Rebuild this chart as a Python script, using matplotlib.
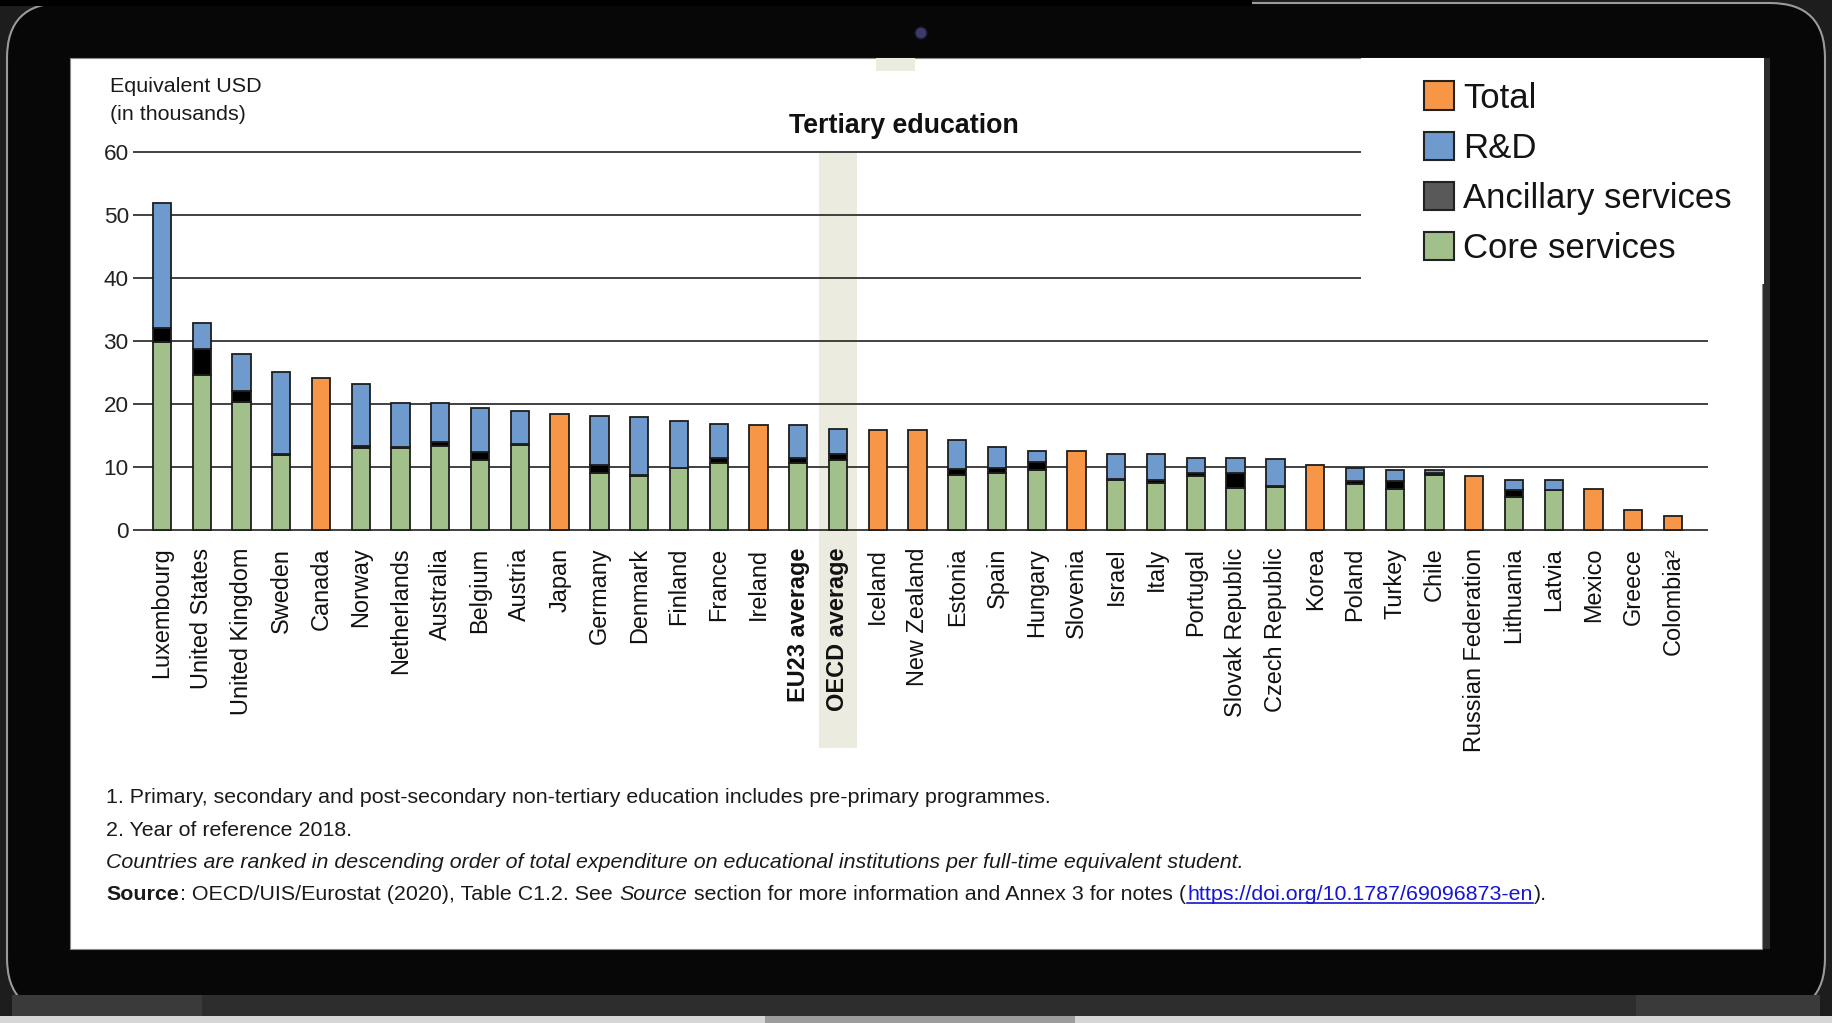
import numpy as np
import matplotlib
matplotlib.use("Agg")
import matplotlib.pyplot as plt
from matplotlib import font_manager
from matplotlib.patches import Rectangle, FancyBboxPatch, Circle, Patch

# Expenditure per tertiary student, equivalent USD (thousands)
countries = ["Luxembourg", "United States", "United Kingdom", "Sweden", "Canada",
             "Norway", "Netherlands", "Australia", "Belgium", "Austria", "Japan",
             "Germany", "Denmark", "Finland", "France", "Ireland", "EU23 average",
             "OECD average", "Iceland", "New Zealand", "Estonia", "Spain", "Hungary",
             "Slovenia", "Israel", "Italy", "Portugal", "Slovak Republic",
             "Czech Republic", "Korea", "Poland", "Turkey", "Chile",
             "Russian Federation", "Lithuania", "Latvia", "Mexico", "Greece",
             "Colombia²"]
core_services = [29.8, 24.6, 20.3, 11.9, None, 13.0, 13.0, 13.4, 11.1, 13.5, None,
                 9.1, 8.5, 9.8, 10.7, None, 10.7, 11.1, None, None, 8.7, 9.1, 9.5,
                 None, 7.9, 7.5, 8.5, 6.6, 6.9, None, 7.3, 6.5, 8.7, None, 5.3, 6.3,
                 None, None, None]
ancillary = [2.3, 4.2, 1.8, 0.1, None, 0.3, 0.1, 0.6, 1.3, 0.1, None,
             1.2, 0.3, 0.1, 0.8, None, 0.8, 0.9, None, None, 1.0, 0.7, 1.3,
             None, 0.2, 0.4, 0.6, 2.5, 0.1, None, 0.4, 1.2, 0.3, None, 1.0, 0.1,
             None, None, None]
r_and_d = [19.8, 4.0, 5.9, 13.1, None, 9.8, 7.1, 6.2, 6.9, 5.3, None,
           7.8, 9.1, 7.4, 5.4, None, 5.1, 4.1, None, None, 4.6, 3.4, 1.8,
           None, 4.0, 4.2, 2.4, 2.4, 4.2, None, 2.1, 1.9, 0.6, None, 1.7, 1.6,
           None, None, None]
total_only = [None, None, None, None, 24.2, None, None, None, None, None, 18.4,
              None, None, None, None, 16.6, None, None, 15.9, 15.9, None, None, None,
              12.5, None, None, None, None, None, 10.3, None, None, None, 8.5, None, None,
              6.5, 3.2, 2.2]
yticks = [0, 10, 20, 30, 40, 50, 60]
highlight = "OECD average"

ORANGE = "#F79646"
BLUE = "#6F9ACD"
BLACK = "#000000"
GREEN = "#A2C08A"
EDGE = "#1e1e1e"
BAND = "#ECEBE0"


def pick_font(names):
    for n in names:
        try:
            font_manager.findfont(n, fallback_to_default=False)
            return n
        except ValueError:
            pass
    return "DejaVu Sans"


NARROW = pick_font(["Liberation Sans Narrow", "Arial Narrow", "Liberation Sans"])
REG = pick_font(["Liberation Sans", "Arial"])

W, H = 1832, 1023
fig = plt.figure(figsize=(W / 100, H / 100), dpi=100)
fig.patch.set_facecolor("#1d1d1d")

# background axes in pixel coordinates (laptop frame, texts)
bg = fig.add_axes([0, 0, 1, 1], zorder=-5)
bg.set_xlim(0, W)
bg.set_ylim(H, 0)
bg.axis("off")

bg.add_patch(FancyBboxPatch((7, 3), 1818, 1010, boxstyle="round,pad=0,rounding_size=55",
                            fc="#070707", ec="#9a9a9a", lw=1.5))
bg.add_patch(Rectangle((0, 0), 1252, 6, fc="#000000", ec="none"))
bg.add_patch(Rectangle((12, 995), 1808, 22, fc="#2d2d2d", ec="none"))
bg.add_patch(Rectangle((12, 995), 190, 22, fc="#3a3a3a", ec="none"))
bg.add_patch(Rectangle((1636, 995), 184, 22, fc="#3a3a3a", ec="none"))
bg.add_patch(Rectangle((0, 1016), W, 8, fc="#d6d6d6", ec="none"))
bg.add_patch(Rectangle((765, 1016), 310, 8, fc="#9c9c9c", ec="none"))
bg.add_patch(Circle((921, 33), 6, fc="#3d3a6a", ec="#15152a", lw=1))
bg.add_patch(Rectangle((1762, 58), 8, 891, fc="#2c2c2c", ec="none"))
bg.add_patch(Rectangle((70, 58), 1692, 891, fc="white", ec="#8a8a8a", lw=0.8))
bg.add_patch(Rectangle((876, 58), 39, 13, fc=BAND, ec="none"))

renderer = fig.canvas.get_renderer()


def size_for(s, target, **kw):
    t = bg.text(0, 0, s, fontsize=20, **kw)
    w = t.get_window_extent(renderer).width
    t.remove()
    return 20 * target / w


# main chart axes, placed by pixel mapping
x0_px, x38_px = 162, 1673
ppx = (x38_px - x0_px) / 38
left_px, right_px = 133, 1708
y0_px, y60_px = 530, 152
ppy = (y0_px - y60_px) / 60
m = 0.1
ax = fig.add_axes([left_px / W, 1 - (y0_px + m * ppy) / H,
                   (right_px - left_px) / W, (y0_px - y60_px + 2 * m * ppy) / H], zorder=1)
ax.set_facecolor("none")
ax.set_xlim(-(x0_px - left_px) / ppx, (right_px - x0_px) / ppx)
ax.set_ylim(-m, 60 + m)

x = np.arange(len(countries))
core = np.array(core_services, dtype=float)
anc = np.array(ancillary, dtype=float)
rnd = np.array(r_and_d, dtype=float)
tot = np.array(total_only, dtype=float)
split = ~np.isnan(core)
bw = 0.46
kw = dict(width=bw, edgecolor=EDGE, linewidth=1.3, zorder=2)
ax.bar(x[split], core[split], color=GREEN, **kw)
ax.bar(x[split], anc[split], bottom=core[split], color=BLACK, **kw)
ax.bar(x[split], rnd[split], bottom=core[split] + anc[split], color=BLUE, **kw)
ax.bar(x[~split], tot[~split], color=ORANGE, **kw)

# shaded OECD average column
hi = countries.index(highlight)
band_bottom = -(748 - y0_px) / ppy
ax.add_patch(Rectangle((hi - 0.47, band_bottom), 0.94, 60 - band_bottom,
                       fc=BAND, ec="none", zorder=0.1, clip_on=False))

ax.grid(axis="y", color="#333333", lw=1.3)
ax.set_axisbelow(True)
for s in ax.spines.values():
    s.set_visible(False)

xfs = size_for("Luxembourg", 130, family=REG)
ax.set_xticks(x)
ax.set_xticklabels(countries, rotation=90, fontsize=xfs, family=REG, va="top",
                   ha="center", color="#111111")
for lbl in ax.get_xticklabels():
    if "average" in lbl.get_text():
        lbl.set_fontweight("bold")
ax.tick_params(axis="x", length=0, pad=17 * 0.72)

yfs = size_for("60", 25, family=NARROW)
ax.set_yticks(yticks)
ax.set_yticklabels([str(v) for v in yticks], fontsize=yfs, family=NARROW, color="#222222")
ax.tick_params(axis="y", length=0, pad=3)

# white box under the legend (hides right end of top gridlines)
ax.add_patch(Rectangle((1361, 58), 1764 - 1361, 284 - 58, transform=bg.transData,
                       fc="white", ec="none", zorder=3, clip_on=False))

# legend
lfs = size_for("Ancillary services", 268, family=NARROW)
fs_px = lfs * 100 / 72
t = bg.text(0, 0, "Ancillary services", fontsize=lfs, family=NARROW)
row_h = max(t.get_window_extent(renderer).height, 30)
t.remove()
handles = [Patch(fc=ORANGE, ec="#222222", lw=1.5, label="Total"),
           Patch(fc=BLUE, ec="#222222", lw=1.5, label="R&D"),
           Patch(fc="#595959", ec="#222222", lw=1.5, label="Ancillary services"),
           Patch(fc=GREEN, ec="#222222", lw=1.5, label="Core services")]
fig.legend(handles=handles, loc="upper left",
           bbox_to_anchor=(1424 / W, 1 - (98 - row_h / 2) / H),
           frameon=False, prop={"family": NARROW, "size": lfs}, labelcolor="#141414",
           handlelength=30 / fs_px, handleheight=30 / fs_px,
           handletextpad=9 / fs_px, labelspacing=(50 - row_h) / fs_px,
           borderpad=0, borderaxespad=0)

# title and axis caption
tfs = size_for("Tertiary education", 230, family=REG, weight="bold")
bg.text(904, 133, "Tertiary education", fontsize=tfs, family=REG, weight="bold",
        ha="center", va="baseline", color="#111111")
cfs = size_for("Equivalent USD", 151, family=NARROW)
bg.text(110, 92, "Equivalent USD", fontsize=cfs, family=NARROW, va="baseline", color="#1a1a1a")
bg.text(110, 120, "(in thousands)", fontsize=cfs, family=NARROW, va="baseline", color="#1a1a1a")

# footnotes
note1 = "1. Primary, secondary and post-secondary non-tertiary education includes pre-primary programmes."
note2 = "2. Year of reference 2018."
note3 = ("Countries are ranked in descending order of total expenditure on educational "
         "institutions per full-time equivalent student.")
nfs = size_for(note1, 942, family=NARROW)
bg.text(106, 803, note1, fontsize=nfs, family=NARROW, va="baseline", color="#1a1a1a")
bg.text(106, 836, note2, fontsize=nfs, family=NARROW, va="baseline", color="#1a1a1a")
bg.text(106, 868, note3, fontsize=nfs, family=NARROW, style="italic", va="baseline",
        color="#1a1a1a")

a = bg.text(0, 0, "x x", fontsize=nfs, family=NARROW)
b = bg.text(0, 0, "xx", fontsize=nfs, family=NARROW)
space = a.get_window_extent(renderer).width - b.get_window_extent(renderer).width
a.remove()
b.remove()

url = "https://doi.org/10.1787/69096873-en"
pieces = [("Source", {"weight": "bold"}, 0),
          (": OECD/UIS/Eurostat (2020), Table C1.2. See", {}, space),
          ("Source", {"style": "italic"}, space),
          ("section for more information and Annex 3 for notes (", {}, 0),
          (url, {"color": "#1414d2"}, 0),
          (").", {}, 0)]
xp = 106
for s, extra, gap in pieces:
    opts = {"color": "#1a1a1a"}
    opts.update(extra)
    txt = bg.text(xp, 900, s, fontsize=nfs, family=NARROW, va="baseline", **opts)
    bb = txt.get_window_extent(renderer)
    if s == url:
        bg.plot([bb.x0, bb.x1], [903, 903], color="#1414d2", lw=1.2)
    xp = bb.x1 + 1 + gap

fig.savefig("out.png", dpi=100, facecolor=fig.get_facecolor())
